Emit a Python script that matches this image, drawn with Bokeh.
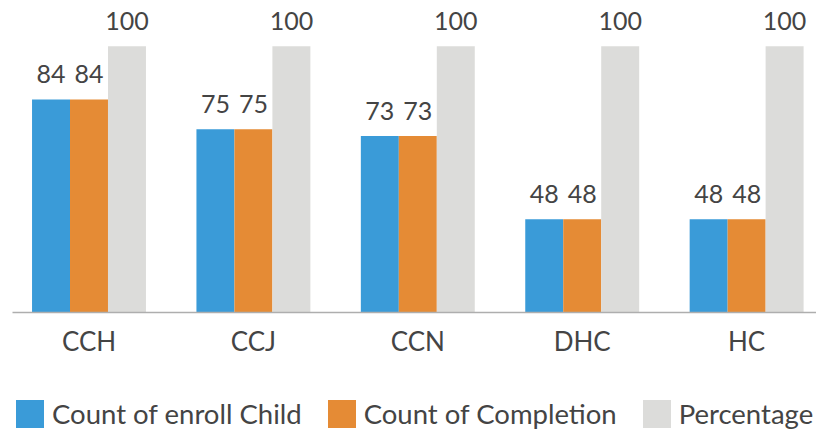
from bokeh.plotting import figure
from bokeh.layouts import column
from bokeh.models import ColumnDataSource, Range1d, FixedTicker, LabelSet, Legend, LegendItem
from bokeh.embed import file_html
from bokeh.resources import INLINE
from bokeh.core.properties import value

categories = ["CCH", "CCJ", "CCN", "DHC", "HC"]
enroll = [84, 75, 73, 48, 48]
completion = [84, 75, 73, 48, 48]
percentage = [100, 100, 100, 100, 100]

series_names = ["Count of enroll Child", "Count of Completion", "Percentage"]
colors = ["#3A9BD8", "#E58B35", "#DCDCDA"]
bar_w = 0.231
offsets = [-bar_w, 0.0, bar_w]

FONT = "Lato"
TXT = "#444444"
BASE = 20

p = figure(width=816, height=359, output_backend="svg", toolbar_location=None,
           x_range=Range1d(-0.4653, 4.425), y_range=Range1d(BASE, 111.3),
           min_border_left=12, min_border_right=0, min_border_top=8, min_border_bottom=47)
p.outline_line_color = None
p.xgrid.visible = False
p.ygrid.visible = False
p.yaxis.visible = False
p.background_fill_color = "white"
p.border_fill_color = "white"

idx = list(range(len(categories)))
for vals, off, col in zip([enroll, completion, percentage], offsets, colors):
    src = ColumnDataSource(dict(x=[i + off for i in idx], top=vals,
                                lbl=[str(v) for v in vals]))
    p.vbar(x="x", top="top", bottom=BASE, width=bar_w, source=src,
           fill_color=col, line_color=None)
    p.add_layout(LabelSet(x="x", y="top", text="lbl", source=src,
                          text_align="center", text_baseline="alphabetic",
                          y_offset=16, text_font=value(FONT),
                          text_font_size="25px", text_color=TXT))

ax = p.xaxis[0]
ax.ticker = FixedTicker(ticks=idx)
ax.major_label_overrides = {i: c for i, c in zip(idx, categories)}
ax.major_tick_line_color = None
ax.major_tick_out = 0
ax.major_tick_in = 0
ax.minor_tick_line_color = None
ax.axis_line_color = "#AEAEAE"
ax.axis_line_width = 1.5
ax.major_label_standoff = 12
ax.major_label_text_font = FONT
ax.major_label_text_font_size = "26px"
ax.major_label_text_color = TXT

# legend strip
lf = figure(width=816, height=74, output_backend="svg", toolbar_location=None,
            x_range=Range1d(0, 1), y_range=Range1d(0, 1),
            min_border_left=0, min_border_right=0, min_border_top=0, min_border_bottom=0)
lf.outline_line_color = None
lf.xaxis.visible = False
lf.yaxis.visible = False
lf.xgrid.visible = False
lf.ygrid.visible = False
lf.background_fill_color = "white"
lf.border_fill_color = "white"
items = []
for name, col in zip(series_names, colors):
    r = lf.vbar(x=[5.0], top=[0.5], width=0.1, fill_color=col, line_color=None)
    items.append(LegendItem(label=name, renderers=[r]))

legend = Legend(items=items, orientation="horizontal", location=(0, 0),
                glyph_width=35, glyph_height=35, label_standoff=5, spacing=22,
                padding=0, margin=0, border_line_color=None,
                background_fill_alpha=0, label_text_font=FONT,
                label_text_font_size="27.5px", label_text_color=TXT,
                label_height=40)
lf.add_layout(legend, "center")

layout = column(p, lf, spacing=0)
open("out.html", "w").write(file_html(layout, INLINE))
